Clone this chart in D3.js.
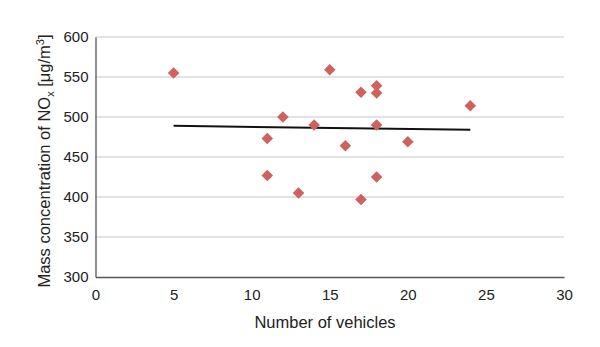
<!DOCTYPE html>
<html>
<head>
<meta charset="utf-8">
<script src="https://cdn.jsdelivr.net/npm/d3@7"></script>
<style>
  body { margin: 0; background: #fff; }
  svg text { font-family: "Liberation Sans", Arial, sans-serif; fill: #222; }
</style>
</head>
<body>
<div id="chart"></div>
<script>
// number of vehicles vs NOx mass concentration
var vehicles = [5, 11, 11, 12, 13, 14, 15, 16, 17, 17, 18, 18, 18, 18, 20, 24];
var noxValues = [555, 473, 427, 500, 405, 490, 559, 464, 531, 397, 539, 530, 490, 425, 469, 514];

// trend line end points as drawn
var trendX = [5, 24];
var trendY = [489, 484];

var xTicks = [0, 5, 10, 15, 20, 25, 30];
var yTicks = [300, 350, 400, 450, 500, 550, 600];

var width = 600, height = 347;
var margin = { left: 95.5, right: 36, top: 37, bottom: 70 };

var svg = d3.select('#chart')
  .append('svg')
  .attr('width', width)
  .attr('height', height);

var x = d3.scaleLinear()
  .domain([0, 30])
  .range([margin.left, width - margin.right]);

var y = d3.scaleLinear()
  .domain([300, 600])
  .range([height - margin.bottom, margin.top]);

// horizontal gridlines
svg.append('g')
  .selectAll('line')
  .data(yTicks.slice(1))
  .enter().append('line')
  .attr('x1', x(0))
  .attr('x2', x(30))
  .attr('y1', d => y(d))
  .attr('y2', d => y(d))
  .attr('stroke', '#c4c8cc')
  .attr('stroke-width', 1.2);

// y axis
var yAxis = svg.append('g')
  .attr('transform', 'translate(' + x(0) + ',0)')
  .call(d3.axisLeft(y).tickValues(yTicks).tickSize(0).tickPadding(7));
yAxis.select('.domain').attr('stroke', '#555').attr('stroke-width', 1.3);
yAxis.selectAll('text').attr('font-size', '15px').attr('fill', '#222')
  .style('font-family', '"Liberation Sans", Arial, sans-serif');

// x axis
var xAxis = svg.append('g')
  .attr('transform', 'translate(0,' + y(300) + ')')
  .call(d3.axisBottom(x).tickValues(xTicks).tickSize(0).tickPadding(12));
xAxis.select('.domain').attr('stroke', '#555').attr('stroke-width', 1.3);
xAxis.selectAll('text').attr('font-size', '15px').attr('fill', '#222')
  .style('font-family', '"Liberation Sans", Arial, sans-serif');

// axis titles
svg.append('text')
  .attr('x', 325)
  .attr('y', 328)
  .attr('text-anchor', 'middle')
  .attr('font-size', '16.5px')
  .text('Number of vehicles');

var yTitle = svg.append('text')
  .attr('transform', 'translate(50,161) rotate(-90)')
  .attr('text-anchor', 'middle')
  .attr('font-size', '16.5px');
yTitle.append('tspan').text('Mass concentration of NO');
yTitle.append('tspan').attr('font-size', '11px').attr('dy', 4).text('x');
yTitle.append('tspan').attr('dy', -4).text(' [μg/m');
yTitle.append('tspan').attr('font-size', '11px').attr('dy', -6).text('3');
yTitle.append('tspan').attr('dy', 6).text(']');

// trend line
svg.append('line')
  .attr('x1', x(trendX[0]))
  .attr('y1', y(trendY[0]))
  .attr('x2', x(trendX[1]))
  .attr('y2', y(trendY[1]))
  .attr('stroke', '#111')
  .attr('stroke-width', 2);

// diamond markers
var diamond = d3.symbol().type(d3.symbolDiamond2).size(85);
svg.append('g')
  .selectAll('path')
  .data(vehicles)
  .enter().append('path')
  .attr('d', diamond)
  .attr('transform', (d, i) => 'translate(' + x(d) + ',' + y(noxValues[i]) + ')')
  .attr('fill', '#d0625d');
</script>
</body>
</html>
